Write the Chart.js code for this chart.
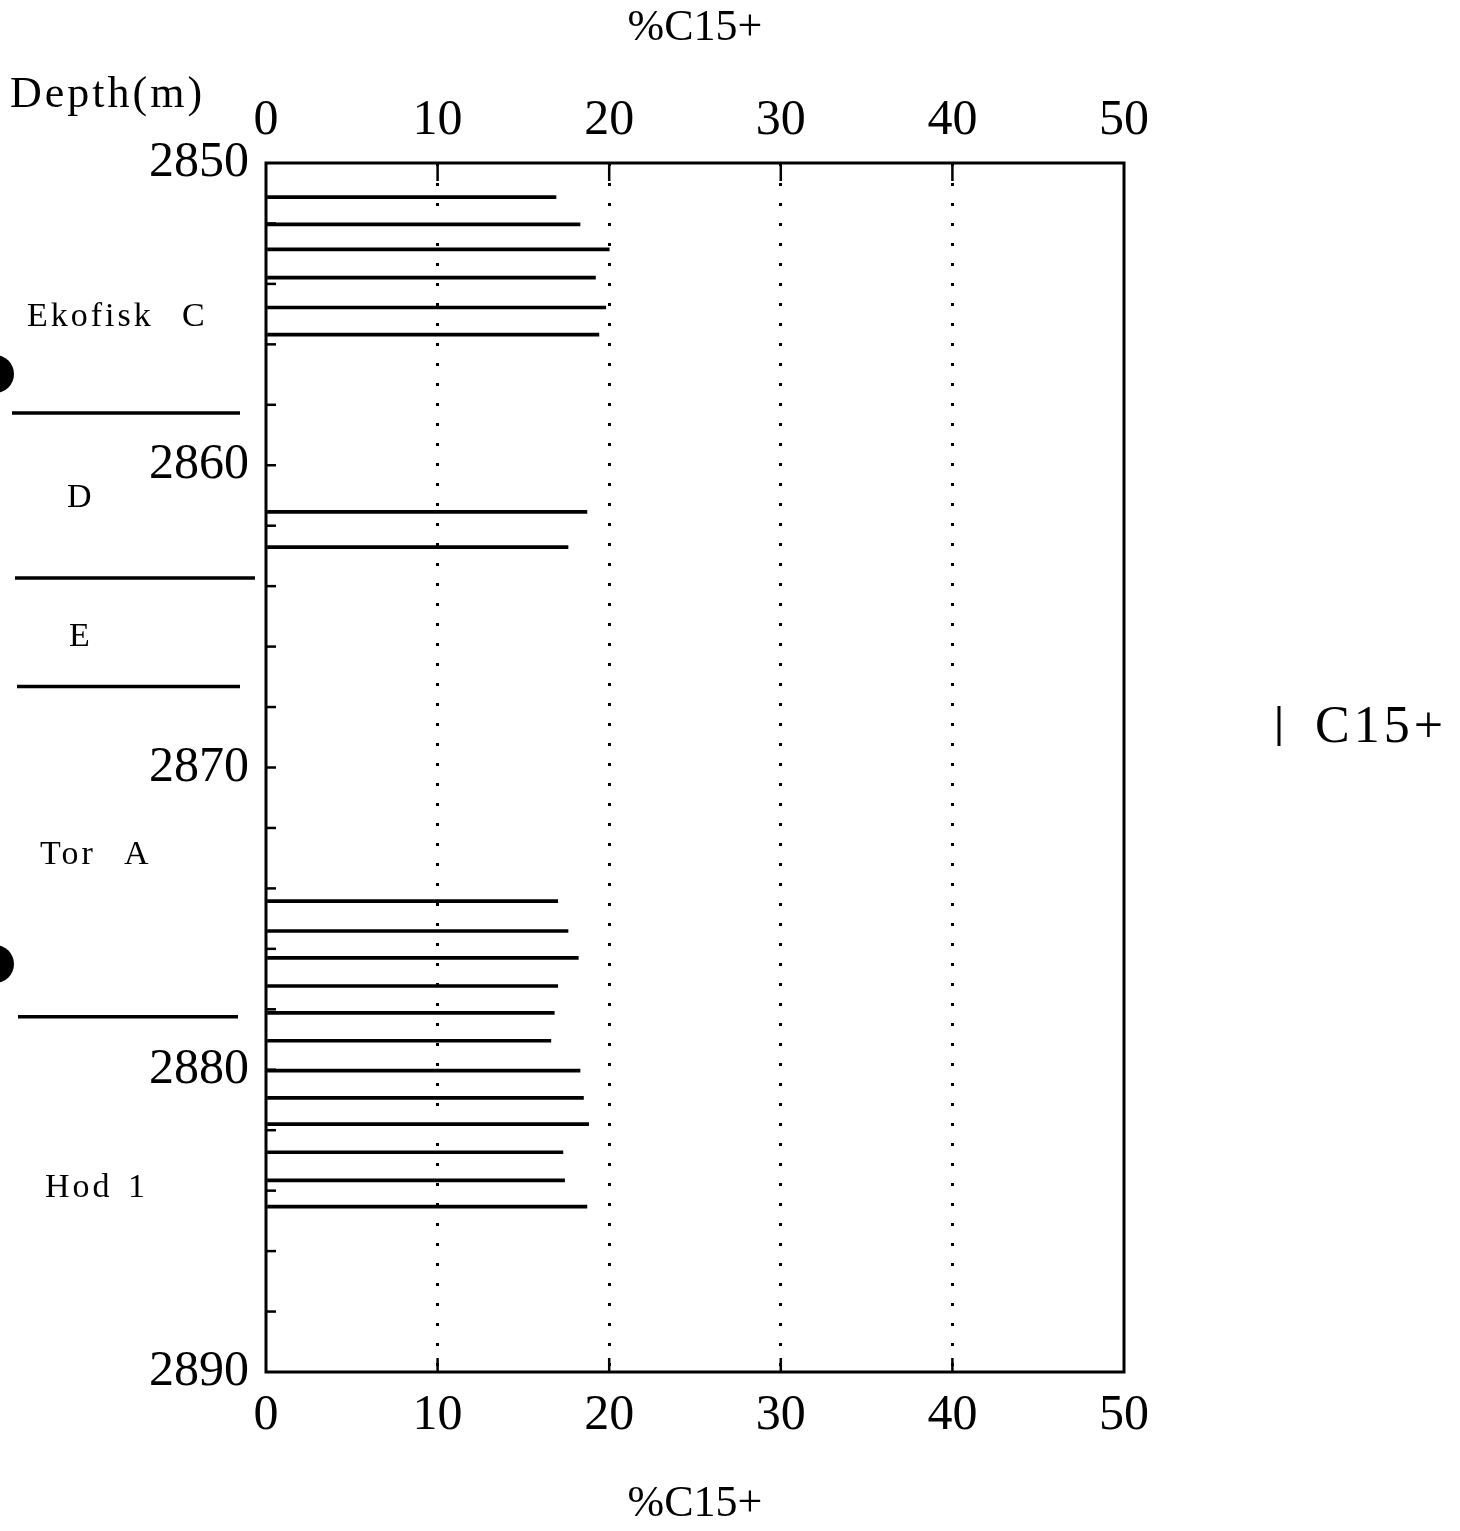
<!DOCTYPE html>
<html>
<head>
<meta charset="utf-8">
<title>%C15+ vs depth</title>
<script src="https://cdn.jsdelivr.net/npm/chart.js@4.4.1/dist/chart.umd.min.js"></script>
<style>
  body { margin: 0; background: #fff; }
  #wrap { width: 1460px; height: 1531px; }
</style>
</head>
<body>
<div id="wrap"><canvas id="depthChart" width="1460" height="1531"></canvas></div>
<script>
// sample depths (m) and %C15+ readings
var depths = [2851.13, 2852.03, 2852.86, 2853.79, 2854.78, 2855.68,
              2861.54, 2862.71,
              2874.42, 2875.41, 2876.30, 2877.23, 2878.12, 2879.04,
              2880.03, 2880.93, 2881.80, 2882.73, 2883.66, 2884.53];
var c15 = [16.9, 18.3, 20.0, 19.2, 19.8, 19.4,
           18.7, 17.6,
           17.0, 17.6, 18.2, 17.0, 16.8, 16.6,
           18.3, 18.5, 18.8, 17.3, 17.4, 18.7];

var xTicks = [0, 10, 20, 30, 40, 50];
var depthTicks = [2850, 2860, 2870, 2880, 2890];

// formation zones drawn in the left margin
var zoneNames = [['Ekofisk', 'C'], ['D'], ['E'], ['Tor', 'A'], ['Hod', '1']];
var zoneDepths = [2855.1, 2861.1, 2865.7, 2872.9, 2883.9];
var boundaryDepths = [2858.27, 2863.73, 2867.32, 2878.25];
var markerDepths = [2856.98, 2876.5];

var FONT = '"Liberation Serif", "Times New Roman", serif';

var frame = {
    id: 'frame',
    afterDraw: function(chart) {
        var ctx = chart.ctx;
        var a = chart.chartArea;
        var xs = chart.scales.x, ys = chart.scales.y;
        ctx.save();
        ctx.strokeStyle = '#000';
        ctx.fillStyle = '#000';
        ctx.lineWidth = 3;
        ctx.strokeRect(a.left, a.top, a.right - a.left, a.bottom - a.top);

        // inward minor ticks on depth axis, every 2 m
        ctx.lineWidth = 2.5;
        for (var d = 2852; d < 2890; d += 2) {
            var py = ys.getPixelForValue(d);
            ctx.beginPath();
            ctx.moveTo(a.left, py);
            ctx.lineTo(a.left + 10, py);
            ctx.stroke();
        }
        // inward ticks on top and bottom axes
        for (var i = 1; i < xTicks.length - 1; i++) {
            var px = xs.getPixelForValue(xTicks[i]);
            ctx.beginPath();
            ctx.moveTo(px, a.top);
            ctx.lineTo(px, a.top + 18);
            ctx.moveTo(px, a.bottom);
            ctx.lineTo(px, a.bottom - 14);
            ctx.stroke();
        }

        // Depth(m) label
        ctx.font = '44px ' + FONT;
        ctx.letterSpacing = '3px';
        ctx.textBaseline = 'middle';
        ctx.textAlign = 'left';
        ctx.fillText('Depth(m)', 10, 95);

        // zone names
        var zoneX = [[27, 182], [67], [69], [40, 124], [45, 128]];
        ctx.font = '34px ' + FONT;
        ctx.letterSpacing = '3px';
        zoneNames.forEach(function(parts, k) {
            var py = ys.getPixelForValue(zoneDepths[k]);
            parts.forEach(function(p, j) {
                ctx.fillText(p, zoneX[k][j], py);
            });
        });

        // zone boundaries
        var bx = [[12, 240], [15, 255], [17, 240], [18, 238]];
        ctx.lineWidth = 3.5;
        boundaryDepths.forEach(function(d, k) {
            var py = ys.getPixelForValue(d);
            ctx.beginPath();
            ctx.moveTo(bx[k][0], py);
            ctx.lineTo(bx[k][1], py);
            ctx.stroke();
        });

        // black markers at the page edge
        markerDepths.forEach(function(d) {
            var py = ys.getPixelForValue(d);
            ctx.beginPath();
            ctx.arc(-5, py, 19, 0, Math.PI * 2);
            ctx.fill();
        });

        // legend
        ctx.lineWidth = 3;
        ctx.beginPath();
        ctx.moveTo(1279, 706);
        ctx.lineTo(1279, 746);
        ctx.stroke();
        ctx.font = '52px ' + FONT;
        ctx.letterSpacing = '4px';
        ctx.fillText('C15+', 1315, 728);
        ctx.restore();
    }
};

var ctx = document.getElementById('depthChart').getContext('2d');
var chart = new Chart(ctx, {
    type: 'bar',
    data: {
        datasets: [{
            label: 'C15+',
            data: depths.map(function(d, i) { return { x: c15[i], y: d }; }),
            backgroundColor: '#000',
            borderWidth: 0,
            barThickness: 3,
            xAxisID: 'x',
            yAxisID: 'y'
        }]
    },
    options: {
        responsive: false,
        animation: false,
        indexAxis: 'y',
        layout: { padding: { left: 0, right: 336, top: 0, bottom: 0 } },
        plugins: { legend: { display: false }, tooltip: { enabled: false } },
        scales: {
            x: {
                type: 'linear',
                position: 'top',
                min: 0, max: 50,
                afterBuildTicks: function(s) { s.ticks = xTicks.map(function(v) { return { value: v }; }); },
                ticks: { color: '#000', font: { family: FONT, size: 50 }, padding: 12, maxRotation: 0 },
                grid: {
                    drawTicks: false,
                    lineWidth: 3,
                    color: function(c) {
                        return (c.tick && (c.tick.value === 0 || c.tick.value === 50)) ? 'rgba(0,0,0,0)' : '#000';
                    }
                },
                border: { display: false, dash: [3, 17] },
                title: { display: true, text: '%C15+', color: '#000', font: { family: FONT, size: 44 }, padding: { top: 2, bottom: 0 } },
                afterFit: function(s) { s.height = 163; }
            },
            x2: {
                type: 'linear',
                position: 'bottom',
                min: 0, max: 50,
                afterBuildTicks: function(s) { s.ticks = xTicks.map(function(v) { return { value: v }; }); },
                ticks: { color: '#000', font: { family: FONT, size: 50 }, padding: 14, maxRotation: 0 },
                grid: { display: false, drawTicks: false },
                border: { display: false },
                title: { display: true, text: '%C15+', color: '#000', font: { family: FONT, size: 44 }, padding: { top: 16, bottom: 0 } },
                afterFit: function(s) { s.height = 159; }
            },
            y: {
                type: 'linear',
                reverse: true,
                offset: false,
                min: 2850, max: 2890,
                afterBuildTicks: function(s) { s.ticks = depthTicks.map(function(v) { return { value: v }; }); },
                ticks: {
                    color: '#000', font: { family: FONT, size: 50 }, padding: 17,
                    callback: function(v) { return String(v); }
                },
                grid: { display: false, drawTicks: false, offset: false },
                border: { display: false },
                afterFit: function(s) { s.width = 266; }
            }
        }
    },
    plugins: [frame]
});
</script>
</body>
</html>
